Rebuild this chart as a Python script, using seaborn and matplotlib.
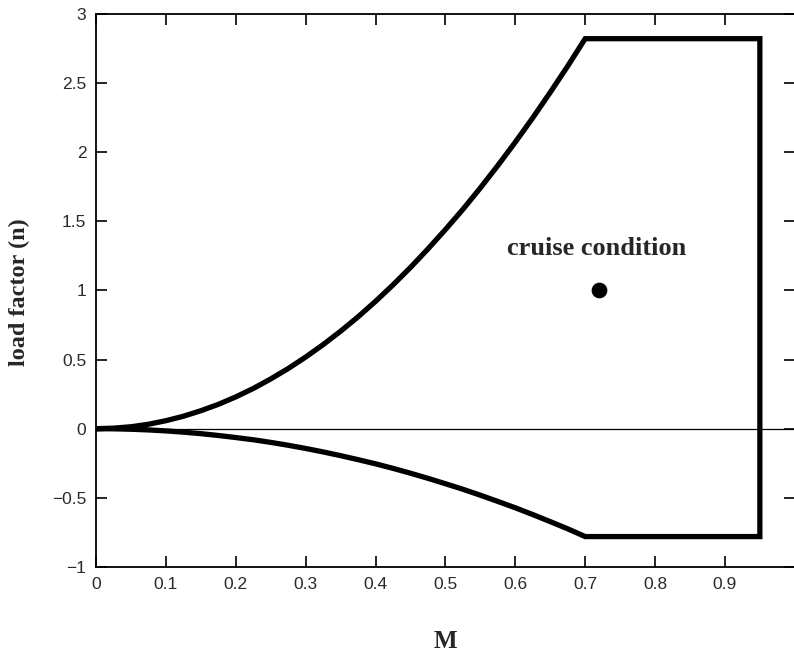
import numpy as np
import pandas as pd
import matplotlib
matplotlib.use("Agg")
import matplotlib.pyplot as plt
import seaborn as sns

# Mach numbers
mach = [0.0, 0.025, 0.05, 0.075, 0.1, 0.125, 0.15, 0.175, 0.2, 0.225, 0.25, 0.275,
        0.3, 0.325, 0.35, 0.375, 0.4, 0.425, 0.45, 0.475, 0.5, 0.525, 0.55, 0.575,
        0.6, 0.625, 0.65, 0.675, 0.7]
n_upper = [0.0, 0.004, 0.014, 0.032, 0.058, 0.09, 0.13, 0.176, 0.23, 0.291, 0.36, 0.435,
           0.518, 0.608, 0.705, 0.809, 0.921, 1.04, 1.166, 1.30, 1.44, 1.586, 1.741, 1.903,
           2.072, 2.248, 2.432, 2.622, 2.82]
n_lower = [0.0, -0.001, -0.004, -0.009, -0.016, -0.025, -0.036, -0.049, -0.064, -0.08,
           -0.099, -0.12, -0.143, -0.168, -0.195, -0.224, -0.254, -0.287, -0.322, -0.359,
           -0.398, -0.438, -0.481, -0.526, -0.572, -0.621, -0.672, -0.724, -0.78]

# flat limits and dive Mach
n_max = 2.82
n_min = -0.78
m_dive = 0.95

cruise_m = [0.72]
cruise_n = [1.0]

x_ticks = [0, 0.1, 0.2, 0.3, 0.4, 0.5, 0.6, 0.7, 0.8, 0.9]
y_ticks = [-1, -0.5, 0, 0.5, 1, 1.5, 2, 2.5, 3]


def build_envelope():
    """Closed V-n envelope: upper curve, flat top, dive line, flat bottom, lower curve."""
    xs = list(mach) + [m_dive, m_dive] + list(reversed(mach))
    ys = list(n_upper) + [n_max, n_min] + list(reversed(n_lower))
    return pd.DataFrame({"M": xs, "n": ys})


def main():
    sns.set_theme(style="white")
    plt.rcParams["font.family"] = ["Liberation Serif", "DejaVu Serif"]

    fig = plt.figure(figsize=(7.94, 6.57), dpi=100)
    ax = fig.add_axes([0.121, 0.137, 0.880, 0.842])

    env = build_envelope()
    sns.lineplot(data=env, x="M", y="n", sort=False, estimator=None,
                 color="black", linewidth=3.8, ax=ax)
    ax.lines[-1].set_solid_joinstyle("miter")
    ax.axhline(0, color="black", linewidth=0.9, zorder=1)

    sns.scatterplot(x=cruise_m, y=cruise_n, color="black", s=110, ax=ax,
                    edgecolor="black", zorder=5)
    ax.text(0.588, 1.30, "cruise condition", fontsize=19, fontweight="bold",
            ha="left", va="center")

    ax.set_xlim(0, 1.0)
    ax.set_ylim(-1, 3)
    ax.set_xticks(x_ticks)
    ax.set_xticklabels([f"{t:g}" for t in x_ticks])
    ax.set_yticks(y_ticks)
    ax.set_yticklabels([f"{t:g}".replace("-", "\u2212") for t in y_ticks])
    ax.tick_params(direction="in", length=8, width=1.2, top=True, right=True,
                   bottom=True, left=True, labelsize=12.5, colors="black", pad=7)
    for lab in ax.get_xticklabels() + ax.get_yticklabels():
        lab.set_family(["Liberation Sans Narrow", "Liberation Sans", "DejaVu Sans"])
        lab.set_color("#2a2a2a")

    for sp in ax.spines.values():
        sp.set_linewidth(1.3)
        sp.set_color("black")

    # seaborn names the axes from the columns; the titles go in by hand below
    ax.set_xlabel("")
    ax.set_ylabel("")
    fig.text(445 / 794, 1 - 642 / 657, "M", fontsize=18, fontweight="bold",
             ha="center", va="center")
    fig.text(19 / 794, 1 - 292 / 657, "load factor (n)", fontsize=17.5,
             fontweight="bold", rotation=90, ha="center", va="center")

    fig.savefig("out.png", dpi=100)


if __name__ == "__main__":
    main()
